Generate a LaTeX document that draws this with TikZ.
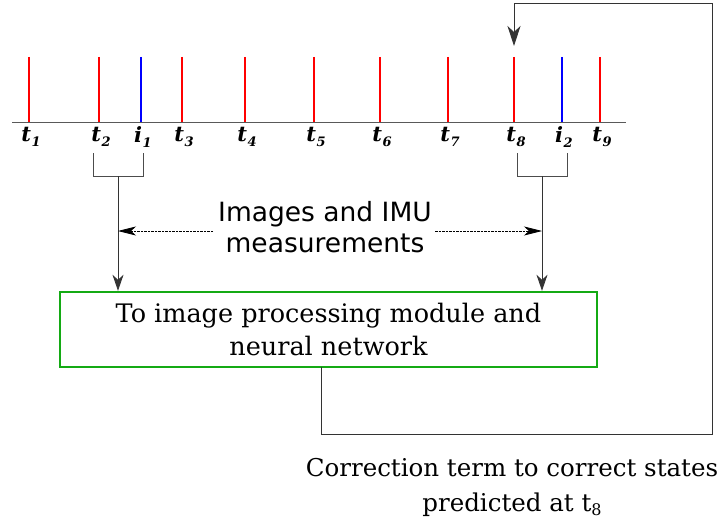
\documentclass[tikz,border=0pt]{standalone}
\usepackage{fontspec}
\setmainfont{DejaVu Serif}
\setsansfont{DejaVu Sans}
\usetikzlibrary{arrows.meta}
\definecolor{tickred}{RGB}{255,0,0}
\definecolor{tickblue}{RGB}{0,0,255}
\definecolor{boxgreen}{RGB}{20,170,20}
\newcommand{\tsub}[2]{#1\kern0.5pt\raisebox{-4.5pt}{\fontsize{13}{13}\selectfont #2}}
\tikzset{
  x=1pt, y=-1pt,
  axis/.style={draw=black!65, line width=1pt},
  stick/.style={line width=2.4pt},
  tlabel/.style={font=\fontsize{21}{21}\selectfont\bfseries\itshape, inner sep=0pt},
  bracket/.style={draw=black!70, line width=0.8pt},
  link/.style={draw=black!80, line width=0.9pt},
  tip/.style={-{Stealth[length=16pt,width=11pt,inset=5pt]}},
  bigtip/.style={-{Stealth[length=20pt,width=13pt,inset=6pt]}},
  dashlink/.style={draw=black, line width=0.8pt, dash pattern=on 2.5pt off 1pt, -{Stealth[length=18pt,width=9pt,inset=5pt]}},
  modbox/.style={draw=boxgreen, line width=2.4pt, minimum width=537pt, minimum height=75pt, align=center, font=\fontsize{25.5}{33}\selectfont},
}
\begin{document}
\begin{tikzpicture}
\useasboundingbox (0,0) rectangle (721,527);
% time axis
\draw[axis] (12,123) -- (626,123);
% sample sticks and their labels
\foreach \x/\c/\ltr/\num/\nm in {29/tickred/t/1/a1, 99/tickred/t/2/a2, 141/tickblue/i/1/b1,
   182/tickred/t/3/a3, 245/tickred/t/4/a4, 314/tickred/t/5/a5, 380/tickred/t/6/a6,
   448/tickred/t/7/a7, 514/tickred/t/8/a8, 562/tickblue/i/2/b2, 600/tickred/t/9/a9}{
  \draw[stick, draw=\c] (\x,57) -- (\x,122);
  \node[tlabel] (\nm) at (\x+2,137) {\tsub{\ltr}{\num}};
}
% brackets under the grouped samples
\coordinate (lb) at (118,176);
\coordinate (rb) at (542,176);
\draw[bracket] (93,153) -- (93,176) -- (143,176) -- (143,153);
\draw[bracket] (517,153) -- (517,176) -- (567,176) -- (567,153);
% processing module
\node[modbox] (mod) at (328.5,329.5) {To image processing module and\\neural network};
\draw[link, tip] (lb) -- (lb |- mod.north);
\draw[link, tip] (rb) -- (rb |- mod.north);
% label for the measurements
\node[font=\sffamily\fontsize{26.5}{31}\selectfont, align=center, inner sep=2pt] (meas) at (325,227) {Images and IMU\\measurements};
\coordinate (ml) at (213,231);
\coordinate (mr) at (435,231);
\draw[dashlink] (ml) -- (lb |- ml);
\draw[dashlink] (mr) -- (rb |- mr);
% feedback loop
\coordinate (fb) at (321,367);
\coordinate (top) at (514,46);
\draw[link, bigtip] (fb) -- (321,434) -- (712,434) -- (712,3) -- (514,3) -- (top);
\node[font=\fontsize{24.5}{35}\selectfont, align=center] (corr) at (512,487) {Correction term to correct states\\predicted at t\raisebox{-4pt}{\fontsize{16}{16}\selectfont 8}};
\end{tikzpicture}
\end{document}
